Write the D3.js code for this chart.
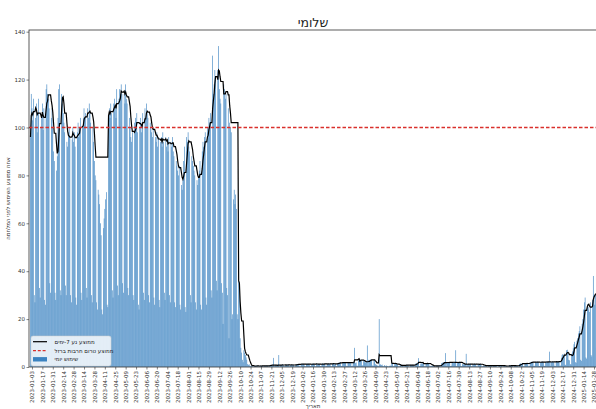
<!DOCTYPE html>
<html>
<head>
<meta charset="utf-8">
<script src="https://cdn.jsdelivr.net/npm/d3@7"></script>
<style>
body { margin: 0; background: #fff; }
text { font-family: "DejaVu Sans", sans-serif; }
</style>
</head>
<body>
<div id="root"></div>
<script>
// one value per day from startDate, weeks run Sun..Sat
var startDate = '2023-01-01';
var usageJan23 = [
  96,114,108,103,112,30,27,  104,110,98,106,112,33,29,  100,104,110,99,108,28,26,
  116,118,114,112,108,35,31,  104,108,100,90,86,31,28,  82,88,104,116,118,32,30,
  114,110,106,102,98,34,30,  94,92,98,100,96,30,27,  95,100,94,98,92,29,26,
  98,102,96,100,104,31,28,  100,104,108,104,106,33,29,  108,104,110,106,102,30,27,
  100,94,86,80,78,27,24,  74,72,68,60,55,24,22,  58,62,66,70,73,26,25,
  105,108,104,110,106,32,29,  110,112,108,104,116,34,30,  112,116,114,118,114,35,31,
  114,110,118,112,110,33,30,  104,100,96,94,98,30,28,  102,104,100,106,98,26,24,
  100,104,98,102,106,31,28
];
var usageJun23 = [
  108,104,110,106,104,30,27,  102,100,98,96,100,29,26,  96,94,98,92,96,28,25,
  94,96,92,98,94,31,28,  96,92,94,90,96,30,27,  94,92,96,90,88,27,25,
  86,84,82,80,84,26,24,  76,74,78,86,92,25,23,  96,94,98,92,90,30,27,
  88,86,84,82,80,27,24,  78,76,80,82,86,26,24,  90,94,92,96,98,29,26,
  100,98,104,102,106,32,29,  130,114,118,124,120,36,32,  124,134,116,112,110,35,31,
  18,118,116,112,114,33,30,  108,12,102,100,98,20,22,  70,74,68,72,66,22,20,
  36,34,12,8,6,3,2,  7,6,5,4,3,1.2,0.8,  1.2,0.6,0.4,0.5,0.3,0.2,0.2,
  0.4,0.5,0.3,0.6,0.4,0.1,0.2
];
var usageNov23 = [
  0.3,0.5,0.4,0.4,0.6,0.2,0.1,  0.5,0.4,0.6,0.3,0.5,0.1,0.2,  0.8,0.9,0.7,0.9,0.6,3.8,0.3,
  0.7,0.9,0.8,0.6,1.0,5.0,0.2,  0.8,0.9,0.7,1.0,0.8,0.2,0.3,  0.9,0.7,1.0,0.8,0.9,0.3,0.2,
  0.8,1.0,0.7,0.9,0.8,0.2,0.3,  1.0,1.2,0.9,1.3,1.1,0.3,0.2,  1.2,1.4,1.1,1.3,1.0,0.4,0.3,
  1.3,1.1,1.4,1.2,1.0,0.3,0.4,  1.1,1.3,1.2,1.5,1.0,0.2,0.3,  1.4,1.2,1.0,1.3,1.1,0.4,0.3,
  1.2,1.5,1.1,1.3,1.4,0.3,0.4,  1.3,1.0,1.4,1.2,1.5,0.3,0.3,  1.4,1.2,1.6,1.1,1.3,0.4,0.3,
  1.5,1.7,1.9,1.6,2.0,0.4,0.5,  1.8,2.0,1.7,1.9,1.8,0.5,0.4,  1.9,1.7,2.0,1.8,1.6,0.4,0.5,
  1.8,1.7,8.0,1.6,1.9,0.6,0.5,  2.8,3.0,2.7,3.1,2.9,0.6,0.7,  2.6,2.4,1.8,2.0,2.2,9.0,0.6,
  3.0,2.8,3.2,2.7,3.1,0.6,0.5
];
var usageApr24 = [
  2.9,3.0,1.2,0.9,0.8,0.5,0.4,  20,0.9,1.1,0.8,1.0,0.4,0.3,  0.8,0.3,0.5,0.6,0.4,0.2,0.3,
  0.5,0.6,0.4,1.6,1.4,0.3,0.4,  1.4,1.5,1.3,0.9,0.8,0.3,0.2,  0.7,0.8,0.3,0.9,0.8,0.2,0.3,
  0.8,0.7,0.9,0.8,0.6,0.2,0.2,  0.9,0.8,0.7,0.9,0.8,0.3,0.2,  1.4,1.6,1.5,1.3,3.7,0.3,0.4,
  1.4,1.5,1.3,1.6,1.4,0.3,0.3,  1.5,1.3,1.6,1.4,1.5,0.3,0.4,  0.5,0.4,0.6,0.5,0.4,0.2,0.1,
  0.5,0.6,0.4,0.5,0.6,0.2,0.2,  1.6,1.8,1.7,2.0,1.9,5.8,0.4,  1.8,2.0,1.7,1.9,2.1,0.4,0.5,
  2.0,1.8,2.1,1.9,1.7,7.0,0.4,  1.9,2.0,1.8,2.2,1.9,0.4,0.3,  1.2,1.1,1.3,1.0,1.2,5.5,0.3,
  1.1,1.3,1.2,1.0,1.4,0.3,0.3,  1.2,1.0,1.3,1.1,1.2,0.3,0.2,  1.1,1.2,1.0,1.3,1.1,0.2,0.3,
  0.6,0.5,0.7,0.6,0.5,0.2,0.1
];
var usageSep24 = [
  0.5,0.7,0.6,0.5,0.6,0.2,0.2,  0.7,0.6,0.5,0.6,0.7,0.2,0.1,  0.6,0.5,0.7,0.6,0.5,0.1,0.2,
  0.5,0.6,0.4,0.3,0.3,0.1,0.2,  0.6,0.7,0.5,0.6,0.5,0.2,0.1,  0.6,0.5,0.6,0.4,0.5,0.1,0.2,
  1.3,1.5,1.4,1.2,1.6,0.3,0.3,  1.4,1.5,1.3,1.6,1.5,0.3,0.4,  2.0,1.9,2.2,2.0,2.1,0.4,0.5,
  2.1,2.0,1.8,2.2,2.0,0.4,0.4,  1.9,2.1,2.0,2.3,1.9,0.5,0.4,  2.0,2.2,2.1,1.9,2.3,6.4,0.5,
  2.1,2.0,2.3,2.2,1.9,0.5,0.4,  2.2,2.4,2.1,2.3,2.2,0.5,0.6,  3.8,5.0,5.4,4.8,5.6,1.0,0.8,
  7.0,7.2,6.0,3.0,2.8,1.2,1.0,  5.5,6.5,8.0,9.5,10.5,2.0,1.8,  11,12,14,15,17,3.0,2.6,
  18,20,24,27,29,4.0,3.5,  26,24,25,23,27,5.0,4.4,  28,38,30,26,30,8.0,6.0
];
// days left out of the moving average
var holidayRanges = [
  ['2023-04-02', '2023-04-14'], ['2023-09-17', '2023-09-17'], ['2023-09-25', '2023-09-25'],
  ['2023-09-29', '2023-10-07'], ['2024-04-21', '2024-04-30']
];
var tickLabels = [
  '2023-01-03','2023-01-17','2023-01-31','2023-02-14','2023-02-28','2023-03-14','2023-03-28',
  '2023-04-11','2023-04-25','2023-05-09','2023-05-23','2023-06-06','2023-06-20','2023-07-04',
  '2023-07-18','2023-08-01','2023-08-15','2023-08-29','2023-09-12','2023-09-26','2023-10-10',
  '2023-10-24','2023-11-07','2023-11-21','2023-12-05','2023-12-19','2024-01-02','2024-01-16',
  '2024-01-30','2024-02-13','2024-02-27','2024-03-12','2024-03-26','2024-04-09','2024-04-23',
  '2024-05-07','2024-05-21','2024-06-04','2024-06-18','2024-07-02','2024-07-16','2024-07-30',
  '2024-08-13','2024-08-27','2024-09-10','2024-09-24','2024-10-08','2024-10-22','2024-11-05',
  '2024-11-19','2024-12-03','2024-12-17','2024-12-31','2025-01-14','2025-01-28'
];
var yTicks = [0, 20, 40, 60, 80, 100, 120, 140];
var prewarAverage = 100;
var chartTitle = 'שלומי';
var yLabel = 'אחוז ממוצע השימוש לפני המלחמה';
var xLabel = 'תאריך';
var legendLabels = ['ממוצע נע 7-ימים', 'ממוצע טרום חרבות ברזל', 'שימוש יומי'];

var w = 596;
var h = 409;
var plotLeft = 29, plotRight = 597, plotTop = 30, plotBottom = 367;
var barColor = '#3a82c0';
var redColor = '#d9302c';
var parse = d3.timeParse('%Y-%m-%d');
var start = parse(startDate);
var usage = [].concat(usageJan23, usageJun23, usageNov23, usageApr24, usageSep24);
var days = usage.map(function(v, i) {
  return {date: d3.timeDay.offset(start, i), value: v};
});
var holidays = holidayRanges.map(function(r) { return [parse(r[0]), parse(r[1])]; });
// only Sun..Thu outside holidays go into the average
var counts = function(d) {
  if (d.value === null || d.date.getDay() > 4) return false;
  return !holidays.some(function(r) { return d.date >= r[0] && d.date <= r[1]; });
};

// 7 day moving average, kept flat over gaps
var maData = [];
var last = null;
days.forEach(function(d, i) {
  if (counts(d)) {
    var win = days.slice(Math.max(0, i - 6), i + 1).filter(counts);
    last = d3.mean(win, function(e) { return e.value; });
  }
  if (last !== null) maData.push({date: d.date, value: last});
});

var x = d3.scaleTime()
  .domain([parse('2022-12-30'), parse('2025-02-01')])
  .range([plotLeft, plotRight]);
var y = d3.scaleLinear()
  .domain([0, d3.max(usage) * 1.05])
  .range([plotBottom, plotTop]);
var bw = x(d3.timeHour.offset(start, 20)) - x(start);

var svg = d3.select('#root').append('svg')
  .attr('width', w)
  .attr('height', h);

// draw bars
svg.append('g')
  .attr('id', 'bars')
  .selectAll('rect')
  .data(days.filter(function(d) { return d.value !== null; }))
  .enter()
  .append('rect')
  .attr('x', function(d) { return x(d.date) - bw / 2; })
  .attr('y', function(d) { return y(d.value); })
  .attr('width', bw)
  .attr('height', function(d) { return plotBottom - y(d.value); })
  .attr('fill', barColor);

// moving average
svg.append('path')
  .datum(maData)
  .attr('d', d3.line()
    .x(function(d) { return x(d.date); })
    .y(function(d) { return y(d.value); }))
  .attr('fill', 'none')
  .attr('stroke', '#000')
  .attr('stroke-width', 1.2);

// pre-war average
svg.append('line')
  .attr('x1', plotLeft)
  .attr('x2', plotRight)
  .attr('y1', y(prewarAverage))
  .attr('y2', y(prewarAverage))
  .attr('stroke', redColor)
  .attr('stroke-width', 1.4)
  .attr('stroke-dasharray', '3.5,2');

// frame
svg.append('rect')
  .attr('x', plotLeft)
  .attr('y', plotTop)
  .attr('width', plotRight - plotLeft)
  .attr('height', plotBottom - plotTop)
  .attr('fill', 'none')
  .attr('stroke', '#333')
  .attr('stroke-width', 0.8);

// axes
var yAxis = svg.append('g')
  .attr('transform', 'translate(' + plotLeft + ',0)')
  .call(d3.axisLeft(y).tickValues(yTicks).tickSize(2.5).tickPadding(1.5));
yAxis.select('.domain').remove();
yAxis.selectAll('text').attr('font-size', 5.5).attr('fill', '#333');
yAxis.selectAll('line').attr('stroke', '#333').attr('stroke-width', 0.6);

var xAxis = svg.append('g')
  .attr('transform', 'translate(0,' + plotBottom + ')')
  .call(d3.axisBottom(x)
    .tickValues(tickLabels.map(parse))
    .tickFormat(d3.timeFormat('%Y-%m-%d'))
    .tickSize(2.5));
xAxis.select('.domain').remove();
xAxis.selectAll('line').attr('stroke', '#333').attr('stroke-width', 0.6);
xAxis.selectAll('text')
  .attr('font-size', 5.5)
  .attr('fill', '#333')
  .attr('text-anchor', 'end')
  .attr('transform', 'rotate(-90)')
  .attr('x', -4)
  .attr('y', 0)
  .attr('dy', '0.35em');

// titles
svg.append('text')
  .text(chartTitle)
  .attr('x', (plotLeft + plotRight) / 2)
  .attr('y', 27)
  .attr('text-anchor', 'middle')
  .attr('font-size', 12.5)
  .attr('fill', '#222');
svg.append('text')
  .text(yLabel)
  .attr('transform', 'translate(10,' + (plotTop + plotBottom) / 2 + ') rotate(-90)')
  .attr('text-anchor', 'middle')
  .attr('font-size', 5.5)
  .attr('fill', '#333');
svg.append('text')
  .text(xLabel)
  .attr('x', (plotLeft + plotRight) / 2)
  .attr('y', 408)
  .attr('text-anchor', 'middle')
  .attr('font-size', 5.5)
  .attr('fill', '#333');

// legend
var lg = svg.append('g').attr('transform', 'translate(31,336)');
lg.append('rect')
  .attr('width', 80)
  .attr('height', 30)
  .attr('rx', 2)
  .attr('fill', '#fff')
  .attr('fill-opacity', 0.8)
  .attr('stroke', '#ccc')
  .attr('stroke-width', 0.5);
var rows = lg.selectAll('g')
  .data(legendLabels)
  .enter()
  .append('g')
  .attr('transform', function(d, i) { return 'translate(0,' + [5.7, 14.7, 23.3][i] + ')'; });
rows.each(function(d, i) {
  var row = d3.select(this);
  if (i === 2) {
    row.append('rect').attr('x', 2).attr('y', -2.2).attr('width', 14).attr('height', 4.4)
      .attr('fill', barColor);
  } else {
    row.append('line').attr('x1', 2).attr('x2', 16)
      .attr('stroke', i === 0 ? '#000' : redColor)
      .attr('stroke-width', 1.2)
      .attr('stroke-dasharray', i === 0 ? null : '3,1.8');
  }
  row.append('text')
    .text(d)
    .attr('x', 23.5)
    .attr('dy', '0.35em')
    .attr('font-size', 5.5)
    .attr('fill', '#222');
});
</script>
</body>
</html>
